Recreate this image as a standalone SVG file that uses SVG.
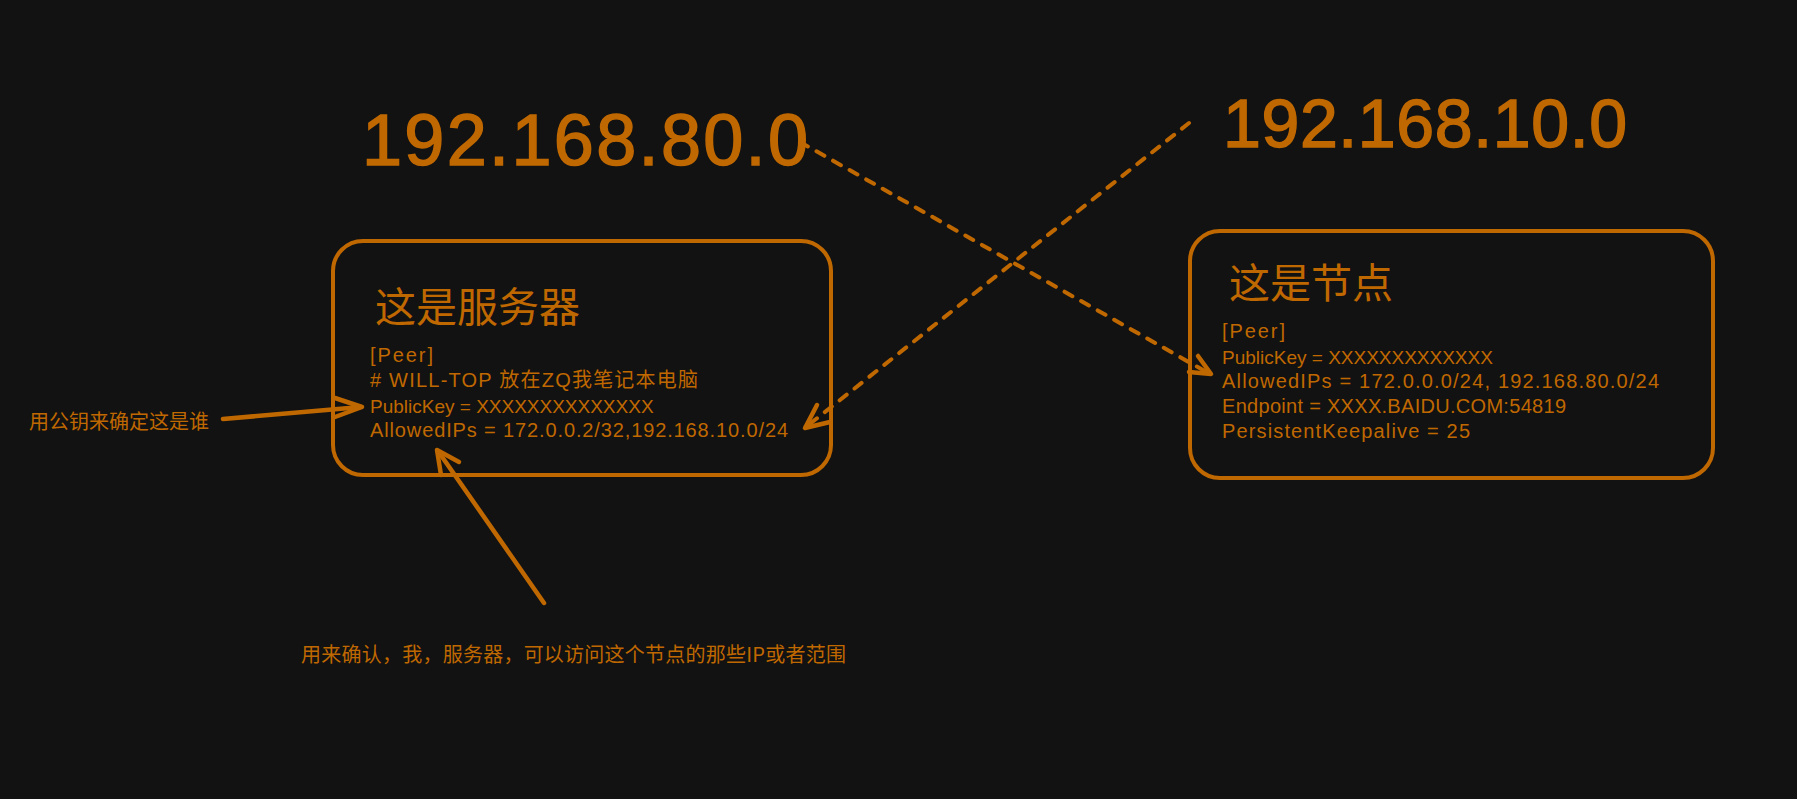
<svg xmlns="http://www.w3.org/2000/svg" width="1797" height="799" viewBox="0 0 1797 799">
<style>
.box{fill:none;stroke:#c06800;stroke-width:4;stroke-linecap:round;stroke-linejoin:round}
.ln{fill:none;stroke:#c06800;stroke-width:4.5;stroke-linecap:round;stroke-linejoin:round}
.dash{fill:none;stroke:#c06800;stroke-width:4;stroke-linecap:round;stroke-dasharray:9 10}
.t{fill:#c06800;font-family:"Liberation Sans","Noto Sans CJK SC",sans-serif}
.code{font-size:20px}
.pk{font-size:19px}
.title{font-size:41px;font-family:"Noto Sans CJK SC",sans-serif}
.big{font-size:72px;stroke:#c06800;stroke-width:1.5}
.big2{font-size:68px}
.note{font-size:20px;font-family:"Noto Sans CJK SC",sans-serif}
</style>
<rect width="1797" height="799" fill="#121212"/>
<g id="ip80"><text class="t big" x="362" y="165" textLength="446" lengthAdjust="spacing">192.168.80.0</text></g>
<g id="ip10"><text class="t big big2" x="1223" y="147" textLength="404" lengthAdjust="spacing">192.168.10.0</text></g>
<g id="server">
<rect class="box" x="333" y="241" width="498" height="234" rx="30"/>
<text class="t title" x="375" y="322">这是服务器</text>
<text class="t code" x="370" y="362" textLength="63" lengthAdjust="spacing">[Peer]</text>
<text class="t code" x="370" y="387" textLength="328" lengthAdjust="spacing"># WILL-TOP 放在ZQ我笔记本电脑</text>
<text class="t code pk" x="370" y="413">PublicKey = XXXXXXXXXXXXXX</text>
<text class="t code" x="370" y="437" textLength="418" lengthAdjust="spacing">AllowedIPs = 172.0.0.2/32,192.168.10.0/24</text>
</g>
<g id="node">
<rect class="box" x="1190" y="231" width="523" height="247" rx="30"/>
<text class="t title" x="1229" y="298">这是节点</text>
<text class="t code" x="1222" y="338" textLength="63" lengthAdjust="spacing">[Peer]</text>
<text class="t code pk" x="1222" y="364">PublicKey = XXXXXXXXXXXXX</text>
<text class="t code" x="1222" y="388" textLength="437" lengthAdjust="spacing">AllowedIPs = 172.0.0.0/24, 192.168.80.0/24</text>
<text class="t code" x="1222" y="413" textLength="344" lengthAdjust="spacing">Endpoint = XXXX.BAIDU.COM:54819</text>
<text class="t code" x="1222" y="438" textLength="248" lengthAdjust="spacing">PersistentKeepalive = 25</text>
</g>
<g id="note-pubkey"><text class="t note" x="29" y="429">用公钥来确定这是谁</text></g>
<g id="note-allowed"><text class="t note" x="301" y="662" textLength="545" lengthAdjust="spacing">用来确认，我，服务器，可以访问这个节点的那些IP或者范围</text></g>
<g id="connectors">
<path class="dash" d="M800,142 L1210,374"/>
<path class="ln" d="M1198,356 L1211,374 L1189,372"/>
<path class="dash" d="M1189,123 L806,427"/>
<path class="ln" d="M817,405 L805,428 L830,422"/>
<path class="ln" d="M223,419 L361,407"/>
<path class="ln" d="M335,398 L362,407 L335,417"/>
<path class="ln" d="M544,603 L438,451"/>
<path class="ln" d="M441,475 L437,450 L459,462"/>
</g>
</svg>
